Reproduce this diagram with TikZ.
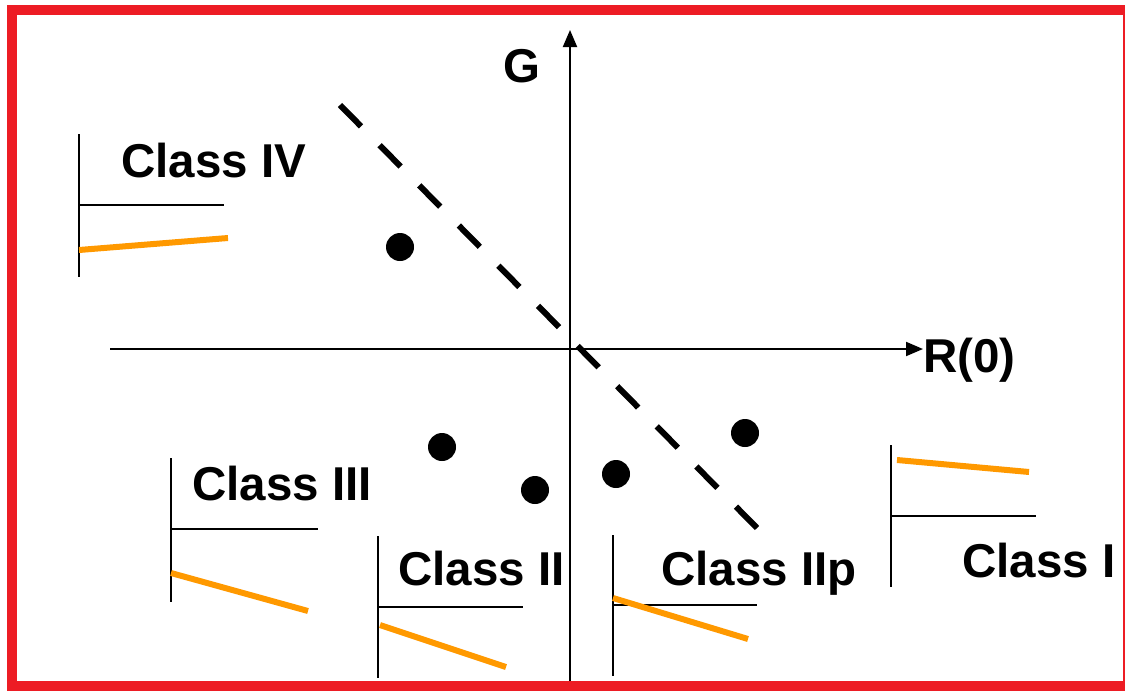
\documentclass[tikz,border=0pt]{standalone}
\usepackage{fontspec}
\setmainfont{Liberation Sans}
\usetikzlibrary{arrows.meta}
\definecolor{framered}{HTML}{ED1C24}
\definecolor{curveorange}{HTML}{FF9900}
\begin{document}
\begin{tikzpicture}[x=1pt,y=-1pt,
  lbl/.style={font=\fontsize{47.5}{50}\selectfont\bfseries, inner sep=0pt, anchor=base west},
  axis/.style={line width=2pt, -{Triangle[length=17pt,width=14pt]}},
  glyphaxis/.style={line width=1.6pt},
  curve/.style={draw=curveorange, line width=6pt},
  dot/.style={circle, fill=black, minimum size=28pt, inner sep=0pt},
  boundary/.style={line width=6pt, dash pattern=on 30pt off 26.4pt}]
\useasboundingbox (0,0) rectangle (1125,691);
\fill[white] (0,0) rectangle (1125,691);
% outer frame
\draw[draw=framered, line width=10pt] (11.5,9.5) rectangle (1128,686);

% axes
\coordinate (xstart) at (110,349);
\coordinate (xend) at (923,349);
\coordinate (ystart) at (570,681);
\coordinate (yend) at (570,30);
\draw[axis] (xstart) -- (xend);
\draw[axis] (ystart) -- (yend);
\node[lbl] (glab) at (503,82) {G};
\node[lbl] (rlab) at (923,372) {R(0)};

% dividing line
\coordinate (b1) at (340,105);
\coordinate (b2) at (757,528);
\draw[boundary] (b1) -- (b2);

% data points
\node[dot] (p4) at (400,247) {};
\node[dot] (p3) at (442,447) {};
\node[dot] (p2) at (535,490) {};
\node[dot] (p2p) at (616,474) {};
\node[dot] (p1) at (745,433) {};

% Class IV glyph
\draw[glyphaxis] (79,134) -- (79,277);
\draw[glyphaxis] (79,205) -- (224,205);
\draw[curve] (79,250) -- (228,238);
\node[lbl] (c4) at (121,177) {Class IV};

% Class III glyph
\draw[glyphaxis] (171,458) -- (171,602);
\draw[glyphaxis] (171,529) -- (318,529);
\draw[curve] (171,573) -- (308,611);
\node[lbl] (c3) at (192,500) {Class III};

% Class II glyph
\draw[glyphaxis] (378,536) -- (378,678);
\draw[glyphaxis] (378,607) -- (523,607);
\draw[curve] (380,625) -- (506,667);
\node[lbl] (c2) at (398,585) {Class II};

% Class IIp glyph
\draw[glyphaxis] (613,535) -- (613,676);
\draw[glyphaxis] (613,605) -- (757,605);
\draw[curve] (613,598) -- (748,639);
\node[lbl] (c2p) at (661,585) {Class IIp};

% Class I glyph
\draw[glyphaxis] (891,445) -- (891,587);
\draw[glyphaxis] (891,516) -- (1036,516);
\draw[curve] (897,460) -- (1029,472);
\node[lbl] (c1) at (962,577) {Class I};
\end{tikzpicture}
\end{document}
